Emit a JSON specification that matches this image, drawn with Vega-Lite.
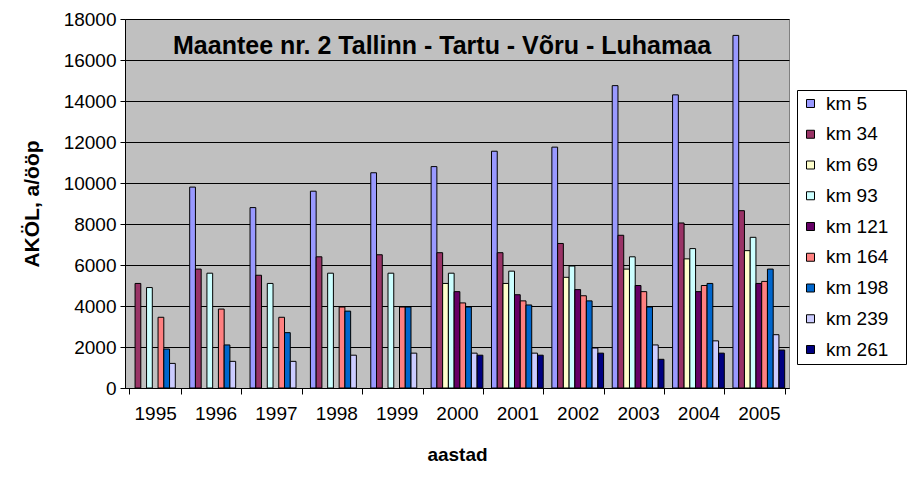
{
  "$schema": "https://vega.github.io/schema/vega-lite/v6.json",
  "autosize": {"type": "none"},
  "width": 664,
  "height": 369,
  "padding": {"left": 125, "top": 19, "right": 129, "bottom": 111},
  "background": "white",
  "title": {
    "text": "Maantee nr. 2 Tallinn - Tartu - Võru - Luhamaa",
    "font": "Liberation Sans",
    "fontSize": 25,
    "fontWeight": "bold",
    "color": "black",
    "anchor": "start",
    "frame": "group",
    "baseline": "alphabetic",
    "dx": 48,
    "dy": 73
  },
  "data": {
    "values": [
      {"year": "1995", "km": "km 34", "v": 5100},
      {"year": "1995", "km": "km 93", "v": 4900},
      {"year": "1995", "km": "km 164", "v": 3450},
      {"year": "1995", "km": "km 198", "v": 1900},
      {"year": "1995", "km": "km 239", "v": 1200},
      {"year": "1996", "km": "km 5", "v": 9800},
      {"year": "1996", "km": "km 34", "v": 5800},
      {"year": "1996", "km": "km 93", "v": 5600},
      {"year": "1996", "km": "km 164", "v": 3850},
      {"year": "1996", "km": "km 198", "v": 2100},
      {"year": "1996", "km": "km 239", "v": 1300},
      {"year": "1997", "km": "km 5", "v": 8800},
      {"year": "1997", "km": "km 34", "v": 5500},
      {"year": "1997", "km": "km 93", "v": 5100},
      {"year": "1997", "km": "km 164", "v": 3450},
      {"year": "1997", "km": "km 198", "v": 2700},
      {"year": "1997", "km": "km 239", "v": 1300},
      {"year": "1998", "km": "km 5", "v": 9600},
      {"year": "1998", "km": "km 34", "v": 6400},
      {"year": "1998", "km": "km 93", "v": 5600},
      {"year": "1998", "km": "km 164", "v": 3950},
      {"year": "1998", "km": "km 198", "v": 3750},
      {"year": "1998", "km": "km 239", "v": 1600},
      {"year": "1999", "km": "km 5", "v": 10500},
      {"year": "1999", "km": "km 34", "v": 6500},
      {"year": "1999", "km": "km 93", "v": 5600},
      {"year": "1999", "km": "km 164", "v": 3950},
      {"year": "1999", "km": "km 198", "v": 3950},
      {"year": "1999", "km": "km 239", "v": 1700},
      {"year": "2000", "km": "km 5", "v": 10800},
      {"year": "2000", "km": "km 34", "v": 6600},
      {"year": "2000", "km": "km 69", "v": 5100},
      {"year": "2000", "km": "km 93", "v": 5600},
      {"year": "2000", "km": "km 121", "v": 4700},
      {"year": "2000", "km": "km 164", "v": 4150},
      {"year": "2000", "km": "km 198", "v": 3950},
      {"year": "2000", "km": "km 239", "v": 1700},
      {"year": "2000", "km": "km 261", "v": 1600},
      {"year": "2001", "km": "km 5", "v": 11550},
      {"year": "2001", "km": "km 34", "v": 6600},
      {"year": "2001", "km": "km 69", "v": 5100},
      {"year": "2001", "km": "km 93", "v": 5700},
      {"year": "2001", "km": "km 121", "v": 4550},
      {"year": "2001", "km": "km 164", "v": 4250},
      {"year": "2001", "km": "km 198", "v": 4050},
      {"year": "2001", "km": "km 239", "v": 1700},
      {"year": "2001", "km": "km 261", "v": 1600},
      {"year": "2002", "km": "km 5", "v": 11750},
      {"year": "2002", "km": "km 34", "v": 7050},
      {"year": "2002", "km": "km 69", "v": 5400},
      {"year": "2002", "km": "km 93", "v": 5950},
      {"year": "2002", "km": "km 121", "v": 4800},
      {"year": "2002", "km": "km 164", "v": 4500},
      {"year": "2002", "km": "km 198", "v": 4250},
      {"year": "2002", "km": "km 239", "v": 1950},
      {"year": "2002", "km": "km 261", "v": 1700},
      {"year": "2003", "km": "km 5", "v": 14750},
      {"year": "2003", "km": "km 34", "v": 7450},
      {"year": "2003", "km": "km 69", "v": 5800},
      {"year": "2003", "km": "km 93", "v": 6400},
      {"year": "2003", "km": "km 121", "v": 5000},
      {"year": "2003", "km": "km 164", "v": 4700},
      {"year": "2003", "km": "km 198", "v": 3950},
      {"year": "2003", "km": "km 239", "v": 2100},
      {"year": "2003", "km": "km 261", "v": 1400},
      {"year": "2004", "km": "km 5", "v": 14300},
      {"year": "2004", "km": "km 34", "v": 8050},
      {"year": "2004", "km": "km 69", "v": 6300},
      {"year": "2004", "km": "km 93", "v": 6800},
      {"year": "2004", "km": "km 121", "v": 4700},
      {"year": "2004", "km": "km 164", "v": 5000},
      {"year": "2004", "km": "km 198", "v": 5100},
      {"year": "2004", "km": "km 239", "v": 2300},
      {"year": "2004", "km": "km 261", "v": 1700},
      {"year": "2005", "km": "km 5", "v": 17200},
      {"year": "2005", "km": "km 34", "v": 8650},
      {"year": "2005", "km": "km 69", "v": 6700},
      {"year": "2005", "km": "km 93", "v": 7350},
      {"year": "2005", "km": "km 121", "v": 5100},
      {"year": "2005", "km": "km 164", "v": 5200},
      {"year": "2005", "km": "km 198", "v": 5800},
      {"year": "2005", "km": "km 239", "v": 2600},
      {"year": "2005", "km": "km 261", "v": 1850}
    ]
  },
  "mark": {"type": "bar", "stroke": "black", "strokeWidth": 1, "opacity": 1},
  "encoding": {
    "x": {
      "field": "year",
      "type": "nominal",
      "scale": {"paddingInner": 0.143, "paddingOuter": 0.0715},
      "axis": {
        "title": "aastad",
        "labelAngle": 0,
        "tickBand": "extent",
        "tickSize": 6,
        "labelPadding": 10,
        "titlePadding": 22
      }
    },
    "xOffset": {
      "field": "km",
      "type": "nominal",
      "scale": {"domain": ["km 5", "km 34", "km 69", "km 93", "km 121", "km 164", "km 198", "km 239", "km 261"], "paddingInner": 0, "paddingOuter": 0}
    },
    "y": {
      "field": "v",
      "type": "quantitative",
      "scale": {"domain": [0, 18000], "nice": false},
      "axis": {
        "title": "AKÖL, a/ööp",
        "titleFontSize": 21,
        "values": [0, 2000, 4000, 6000, 8000, 10000, 12000, 14000, 16000, 18000],
        "format": "d",
        "tickSize": 5,
        "labelPadding": 4,
        "titlePadding": 21,
        "grid": true
      }
    },
    "color": {
      "field": "km",
      "type": "nominal",
      "scale": {
        "domain": ["km 5", "km 34", "km 69", "km 93", "km 121", "km 164", "km 198", "km 239", "km 261"],
        "range": ["#9999FF", "#993366", "#FFFFCC", "#CCFFFF", "#660066", "#FF8080", "#0066CC", "#CCCCFF", "#000080"]
      },
      "legend": {
        "title": "\u00a0",
        "titleOrient": "right",
        "titleFontSize": 2,
        "titlePadding": 14,
        "orient": "none",
        "legendX": 672,
        "legendY": 71,
        "symbolType": "square",
        "symbolSize": 64,
        "symbolStrokeColor": "black",
        "symbolStrokeWidth": 1,
        "symbolOpacity": 1,
        "labelFontSize": 19,
        "labelFont": "Liberation Sans",
        "labelColor": "black",
        "labelOffset": 6,
        "rowPadding": 10.75,
        "padding": 4,
        "strokeColor": "black",
        "fillColor": "white"
      }
    }
  },
  "config": {
    "view": {"fill": "#C0C0C0", "stroke": "#808080", "strokeWidth": 1},
    "axis": {
      "labelFont": "Liberation Sans",
      "labelFontSize": 19,
      "labelColor": "black",
      "titleFont": "Liberation Sans",
      "titleFontSize": 19,
      "titleFontWeight": "bold",
      "titleColor": "black",
      "domainColor": "black",
      "domainWidth": 1,
      "tickColor": "black",
      "tickWidth": 1,
      "gridColor": "black",
      "gridWidth": 1,
      "gridOpacity": 1
    },
    "axisX": {"grid": false}
  }
}
